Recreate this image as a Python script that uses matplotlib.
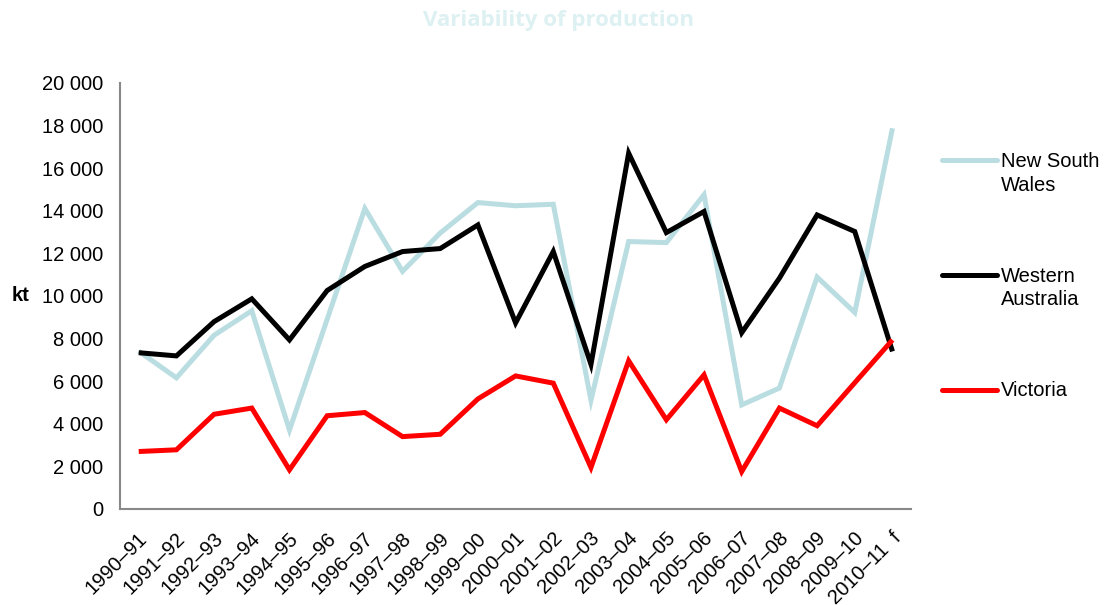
"""line chart of annual production by state"""

import matplotlib
matplotlib.use("Agg")
import numpy as np
import matplotlib.pyplot as plt
from matplotlib.lines import Line2D
from matplotlib.transforms import ScaledTranslation

plt.rcParams['font.family'] = ['Liberation Sans', 'DejaVu Sans']

years = ["1990–91", "1991–92", "1992–93", "1993–94", "1994–95", "1995–96",
         "1996–97", "1997–98", "1998–99", "1999–00", "2000–01", "2001–02",
         "2002–03", "2003–04", "2004–05", "2005–06", "2006–07", "2007–08",
         "2008–09", "2009–10", "2010–11  f"]

# production in kt
nsw = [7400, 6150, 8150, 9300, 3700, 8900, 14100, 11150, 12950, 14380,
       14230, 14300, 5100, 12550, 12500, 14750, 4880, 5670, 10880, 9220,
       17870]
wa = [7330, 7180, 8790, 9860, 7930, 10250, 11380, 12080, 12220, 13330,
      8730, 12080, 6780, 16700, 12970, 13960, 8270, 10830, 13800, 13020,
      7390]
vic = [2690, 2770, 4440, 4730, 1830, 4370, 4520, 3390, 3500, 5160,
       6240, 5900, 1940, 6950, 4180, 6290, 1750, 4730, 3900, 5920,
       7930]

series = [("New South\nWales", nsw, "#b9dde1"),
          ("Western\nAustralia", wa, "#000000"),
          ("Victoria", vic, "#ff0000")]

fig = plt.figure(figsize=(11.1, 6.05), dpi=100)
ax = fig.add_axes([0.108, 0.159, 0.713, 0.704])

x = np.arange(len(years))
for name, vals, col in series:
    ax.plot(x, vals, color=col, lw=3.6, solid_joinstyle='miter',
            solid_capstyle='butt')

ax.set_xlim(-0.5, len(years) - 0.5)
ax.set_ylim(0, 20000)
ax.set_yticks(np.arange(0, 20001, 2000))
ax.set_yticklabels([f"{v:,}".replace(",", " ") for v in range(0, 20001, 2000)])
ax.set_xticks(x)
ax.set_xticklabels(years, rotation=45, ha='right', va='center',
                   rotation_mode='anchor')
ax.tick_params(axis='both', length=0, labelsize=14.5, colors='#000000')
ax.tick_params(axis='x', pad=19)
ax.tick_params(axis='y', pad=12)

# nudge the slanted year labels a little to the right
shift = ScaledTranslation(4 / 72, 0, fig.dpi_scale_trans)
for lab in ax.get_xticklabels():
    lab.set_transform(lab.get_transform() + shift)

for side in ['top', 'right']:
    ax.spines[side].set_visible(False)
for side in ['left', 'bottom']:
    ax.spines[side].set_color('#888888')
    ax.spines[side].set_linewidth(1.5)

ax.set_ylabel("kt", rotation=0, fontsize=14.5, fontweight='bold',
              va='center', ha='center')
ax.yaxis.set_label_coords(-0.125, 0.5)

fig.text(0.503, 0.966, "Variability of production", ha='center', va='center',
         fontsize=16, fontweight='bold', color='#ddf0f2',
         family=['Open Sans', 'DejaVu Sans'])

# legend entries stacked down the right margin
legend_y = [0.735, 0.545, 0.356]
for (name, vals, col), ly in zip(series, legend_y):
    fig.add_artist(Line2D([0.849, 0.898], [ly, ly], color=col, lw=3.6,
                          solid_capstyle='round', transform=fig.transFigure))
    fig.text(0.902, ly + 0.0145, name, ha='left', va='top', fontsize=14.5,
             linespacing=1.33)

fig.savefig("out.png", dpi=100)
